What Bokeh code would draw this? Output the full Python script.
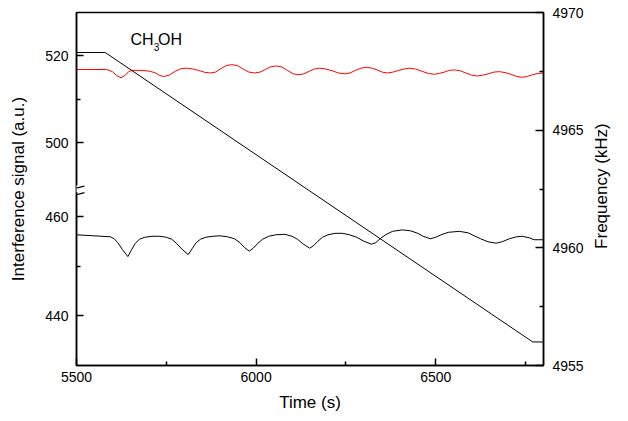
import math
from bokeh.plotting import figure
from bokeh.layouts import row
from bokeh.models import Range1d, LinearAxis, FixedTicker, Arrow, BoxAnnotation, Label
from bokeh.embed import file_html
from bokeh.resources import INLINE

# ---- data ----
time_upper = [5500, 5584, 5600, 5612, 5624, 5636, 5645, 5654, 5680, 5705, 5720, 5732, 5744, 5758,
              5775, 5790, 5805, 5822, 5840, 5857, 5872, 5887, 5902, 5917, 5932, 5948, 5964, 5980,
              5996, 6011, 6026, 6040, 6055, 6071, 6087, 6103, 6119, 6133, 6148, 6162, 6177, 6194,
              6212, 6229, 6246, 6261, 6277, 6292, 6308, 6322, 6337, 6351, 6366, 6381, 6397, 6412,
              6427, 6444, 6461, 6479, 6496, 6510, 6524, 6538, 6552, 6568, 6584, 6600, 6616, 6631,
              6646, 6662, 6677, 6693, 6709, 6725, 6741, 6755, 6770, 6785, 6798]
signal_upper = [516.8, 516.8, 516.3, 515.4, 514.9, 515.5, 516.3, 516.6, 516.6, 516.4, 516.0, 515.4, 515.2, 515.5,
                516.4, 516.95, 517.1, 516.95, 516.6, 516.15, 516.0, 516.2, 517.0, 517.7, 517.9, 517.7, 516.9, 516.2,
                516.0, 516.2, 516.8, 517.4, 517.6, 517.4, 516.6, 515.8, 515.6, 515.8, 516.4, 516.9, 517.1, 516.9,
                516.5, 516.0, 515.8, 516.0, 516.6, 517.1, 517.3, 517.1, 516.7, 516.2, 516.0, 516.2, 516.6, 516.9,
                517.1, 516.9, 516.4, 515.9, 515.7, 515.9, 516.2, 516.6, 516.7, 516.5, 516.0, 515.5, 515.3, 515.5,
                515.8, 516.2, 516.3, 516.1, 515.7, 515.2, 515.0, 515.2, 515.6, 515.9, 516.0]

time_lower = [5500, 5594, 5605, 5615, 5628, 5643, 5652, 5663, 5675, 5690, 5710, 5732,
              5750, 5765, 5778, 5795, 5811, 5822, 5833, 5845, 5860, 5880, 5899,
              5920, 5940, 5955, 5968, 5981, 5992, 6005, 6018, 6035, 6055, 6080,
              6100, 6115, 6130, 6149, 6160, 6172, 6185, 6200, 6220, 6240,
              6260, 6280, 6300, 6321, 6333, 6345, 6360, 6380, 6407, 6430,
              6450, 6465, 6485, 6500, 6515, 6535, 6566, 6590,
              6607, 6625, 6645, 6668, 6685, 6705, 6725, 6741, 6760, 6774, 6798]
signal_lower = [456.4, 456.0, 455.6, 454.8, 453.4, 452.0, 453.2, 454.6, 455.5, 455.9, 456.1, 456.1,
                455.9, 455.5, 454.7, 453.4, 452.4, 453.6, 454.8, 455.5, 455.9, 456.1, 456.2,
                456.0, 455.6, 454.8, 453.8, 453.1, 453.7, 454.7, 455.5, 456.1, 456.4, 456.5,
                456.1, 455.5, 454.6, 453.7, 454.2, 455.1, 455.9, 456.4, 456.7, 456.7,
                456.4, 455.9, 455.1, 454.5, 454.8, 455.6, 456.4, 457.1, 457.4, 457.2,
                456.7, 456.1, 455.6, 455.9, 456.4, 456.9, 457.1, 456.8,
                456.2, 455.6, 455.0, 454.7, 455.0, 455.6, 456.0, 456.1, 455.8, 455.4, 455.4]

time_freq = [5500, 5580, 6770, 6800]
freq_khz = [4968.3, 4968.3, 4956.0, 4956.0]

x_ticks = [5500, 6000, 6500]
x_minor = [5750, 6250, 6750]
lower_ticks = [440, 460]
lower_minor = [450]
upper_ticks = [500, 520]
upper_minor = [510]
freq_ticks = [4955, 4960, 4965, 4970]
freq_minor = [4957.5, 4962.5, 4967.5]

X_RANGE = (5500, 6800)
LOWER = (430.0, 501.3)     # scale of the lower (broken) segment
UPPER = (449.0, 529.85)    # scale of the upper segment
FREQ = (4955, 4970)

FONT = "Liberation Sans"


def upper_in_lower(v):
    k = (LOWER[1] - LOWER[0]) / (UPPER[1] - UPPER[0])
    return round(LOWER[0] + (v - UPPER[0]) * k, 4)


p = figure(frame_width=467, frame_height=353,
           x_range=Range1d(*X_RANGE), y_range=Range1d(*LOWER),
           output_backend="svg", toolbar_location=None,
           min_border_left=76, min_border_right=45, min_border_top=12, min_border_bottom=56,
           background_fill_color="white", border_fill_color="white")
p.extra_y_ranges = {"upper": Range1d(*UPPER), "freq": Range1d(*FREQ)}
p.grid.visible = False
p.outline_line_color = "black"
p.outline_line_width = 1.5

p.line(time_lower, signal_lower, color="black", line_width=1)
p.line(time_upper, signal_upper, color="#ff0000", line_width=1, y_range_name="upper")
p.line(time_freq, freq_khz, color="black", line_width=1, y_range_name="freq")


def style(ax, major_in=7):
    ax.major_tick_in = major_in
    ax.major_tick_out = 0
    ax.minor_tick_in = 4
    ax.minor_tick_out = 0
    ax.axis_line_width = 1.5
    ax.major_tick_line_width = 1.5
    ax.minor_tick_line_width = 1.5
    ax.major_label_text_font = FONT
    ax.major_label_text_font_size = "14px"
    ax.major_label_text_color = "black"
    ax.axis_label_text_font = FONT
    ax.axis_label_text_font_size = "17px"
    ax.axis_label_text_font_style = "normal"
    ax.axis_label_text_color = "black"


# bottom axis
xa = p.xaxis[0]
xa.ticker = FixedTicker(ticks=x_ticks, minor_ticks=x_minor)
xa.axis_label = "Time (s)"
style(xa)
xa.major_label_standoff = 6
xa.axis_label_standoff = 8

# left (broken) axis
ya = p.yaxis[0]
up_pos = [upper_in_lower(v) for v in upper_ticks]
up_minor_pos = [upper_in_lower(v) for v in upper_minor]
ya.ticker = FixedTicker(ticks=lower_ticks + up_pos, minor_ticks=lower_minor + up_minor_pos)
ya.major_label_overrides = {pos: str(v) for pos, v in zip(up_pos, upper_ticks)}
ya.axis_label = "Interference signal (a.u.)"
style(ya)
ya.major_label_standoff = 8
ya.axis_label_standoff = 14

# right axis (its title is drawn in a narrow side panel so it reads bottom-to-top)
ra = LinearAxis(y_range_name="freq",
                ticker=FixedTicker(ticks=freq_ticks, minor_ticks=freq_minor))
style(ra, major_in=8)
ra.major_label_standoff = 9
p.add_layout(ra, "right")

# axis break mark
p.add_layout(BoxAnnotation(left=5493, right=5507, bottom=upper_in_lower(488.7), top=upper_in_lower(490.2),
                           fill_color="white", fill_alpha=1, line_alpha=0, level="overlay"))
p.add_layout(Arrow(end=None, x_start=5478, y_start=upper_in_lower(489.2), x_end=5522, y_end=upper_in_lower(490.1),
                   line_color="black", line_width=1.2, level="overlay"))
p.add_layout(Arrow(end=None, x_start=5478, y_start=upper_in_lower(487.6), x_end=5522, y_end=upper_in_lower(488.6),
                   line_color="black", line_width=1.2, level="overlay"))

# compound label CH3OH
for txt, xx, yy, fs in [("CH", 5650, 523.6, "16px"), ("3", 5715, 522.0, "10px"), ("OH", 5727, 523.6, "16px")]:
    p.add_layout(Label(x=xx, y=yy, y_range_name="upper", text=txt, text_font=FONT,
                       text_font_size=fs, text_color="black", text_baseline="alphabetic"))

# side panel with the right-axis title
side = figure(width=40, height=421, x_range=Range1d(0, 40), y_range=Range1d(0, 421),
              output_backend="svg", toolbar_location=None,
              min_border_left=0, min_border_right=0, min_border_top=0, min_border_bottom=0,
              background_fill_color="white", border_fill_color="white")
side.axis.visible = False
side.grid.visible = False
side.outline_line_color = None
side.add_layout(Label(x=13, y=214, text="Frequency (kHz)", angle=math.pi / 2,
                      text_align="center", text_baseline="middle",
                      text_font=FONT, text_font_size="17px", text_color="black"))

layout = row(p, side, spacing=0)
open("out.html", "w").write(file_html(layout, INLINE))
